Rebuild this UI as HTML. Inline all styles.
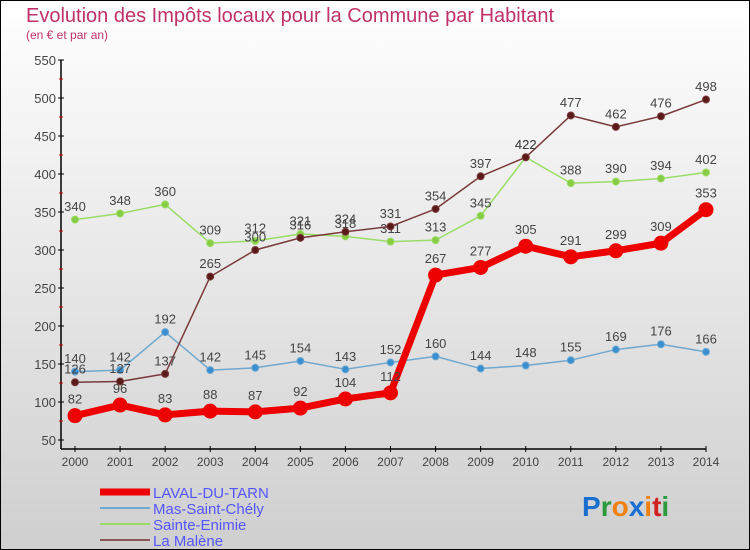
<!DOCTYPE html>
<html><head><meta charset="utf-8"><style>
body{margin:0}
svg{display:block;font-family:"Liberation Sans",sans-serif}
</style></head><body>
<svg width="750" height="550" viewBox="0 0 750 550">
<defs><linearGradient id="bg" x1="0" y1="0" x2="0" y2="1"><stop offset="0" stop-color="#ffffff"/><stop offset="1" stop-color="#cfcfcf"/></linearGradient></defs>
<rect x="0.5" y="0.5" width="749" height="549" fill="url(#bg)" stroke="#000"/>
<text x="26" y="22" font-size="20" fill="#c0306a">Evolution des Impôts locaux pour la Commune par Habitant</text>
<text x="26" y="39" font-size="12" fill="#c0306a">(en € et par an)</text>
<g id="axes"></g>
<g id="series"></g>
<g>
<line x1="100" y1="492" x2="150" y2="492" stroke="#ee0000" stroke-width="7"/>
<text x="153" y="498" font-size="15" fill="#5555ff">LAVAL-DU-TARN</text>
<line x1="100" y1="508" x2="150" y2="508" stroke="#6fa8d0" stroke-width="2"/>
<text x="153" y="514" font-size="15" fill="#5555ff">Mas-Saint-Chély</text>
<line x1="100" y1="524" x2="150" y2="524" stroke="#99dd66" stroke-width="2"/>
<text x="153" y="530" font-size="15" fill="#5555ff">Sainte-Enimie</text>
<line x1="100" y1="540" x2="150" y2="540" stroke="#8b5555" stroke-width="2"/>
<text x="153" y="546" font-size="15" fill="#5555ff">La Malène</text>
</g>
<g font-size="28" font-weight="bold">
<text x="582" y="516"><tspan fill="#1a6fd0">P</tspan><tspan fill="#2a9a3a">r</tspan><tspan fill="#f08010">o</tspan><tspan fill="#1a6fd0">x</tspan><tspan fill="#f08010">i</tspan><tspan fill="#d02020">t</tspan><tspan fill="#2a9a3a">i</tspan></text>
</g>
</svg>
<script>
const years=["2000","2001","2002","2003","2004","2005","2006","2007","2008","2009","2010","2011","2012","2013","2014"];
const yTicks=[50,100,150,200,250,300,350,400,450,500,550];
const laval=[82,96,83,88,87,92,104,112,267,277,305,291,299,309,353];
const mas=[140,142,192,142,145,154,143,152,160,144,148,155,169,176,166];
const sainte=[340,348,360,309,312,321,318,311,313,345,422,388,390,394,402];
const malene=[126,127,137,265,300,316,324,331,354,397,422,477,462,476,498];
const NS="http://www.w3.org/2000/svg";
const X=i=>75+i*(706-75)/14;
const Y=v=>440-(v-50)*0.76;
function mk(t,a,p){const e=document.createElementNS(NS,t);for(const k in a)e.setAttribute(k,a[k]);p.appendChild(e);return e;}
const ax=document.getElementById('axes');
let l=mk('line',{x1:61,y1:60,x2:61,y2:449,stroke:'#000','stroke-width':1.5},ax);

l=mk('line',{x1:61,y1:449,x2:706,y2:449,stroke:'#000','stroke-width':1.5},ax);

yTicks.forEach((v,i)=>{mk('line',{x1:58,y1:Y(v),x2:64,y2:Y(v),stroke:'#000'},ax);
 if(i<yTicks.length-1)mk('line',{x1:59,y1:Y(v+25),x2:63,y2:Y(v+25),stroke:'#d00'},ax);
 const t=mk('text',{x:56,y:Y(v)+5,'font-size':13,fill:'#444','text-anchor':'end'},ax);t.textContent=v;
 });
years.forEach((y,i)=>{mk('line',{x1:X(i),y1:446,x2:X(i),y2:452,stroke:'#000'},ax);
 const t=mk('text',{x:X(i),y:466,'font-size':12,fill:'#444','text-anchor':'middle'},ax);t.textContent=y;
 });
const sg=document.getElementById('series');
function draw(vals,col,w,r,name,fill){
 const g=mk('g',{},sg);
 mk('polyline',{points:vals.map((v,i)=>X(i)+','+Y(v)).join(' '),fill:'none',stroke:col,'stroke-width':w,'stroke-linejoin':'round'},g);
 vals.forEach((v,i)=>{const c=mk('circle',{cx:X(i),cy:Y(v),r:r,fill:fill,stroke:col,'stroke-width':1},g);
  
  const t=mk('text',{x:X(i),y:Y(v)-r-5,'font-size':13,fill:'#444','text-anchor':'middle'},g);t.textContent=v;
  });
}
draw(sainte,'#99dd66',1.5,3.5,'sainte-enimie','#88cc44');
draw(mas,'#6fa8d0',1.5,3.5,'mas-saint-chely','#3a8fd0');
draw(malene,'#7a3a3a',1.5,3.5,'la-malene','#5a1a1a');
draw(laval,'#ee0000',7,7,'laval-du-tarn','#ee0000');
</script>
</body></html>
